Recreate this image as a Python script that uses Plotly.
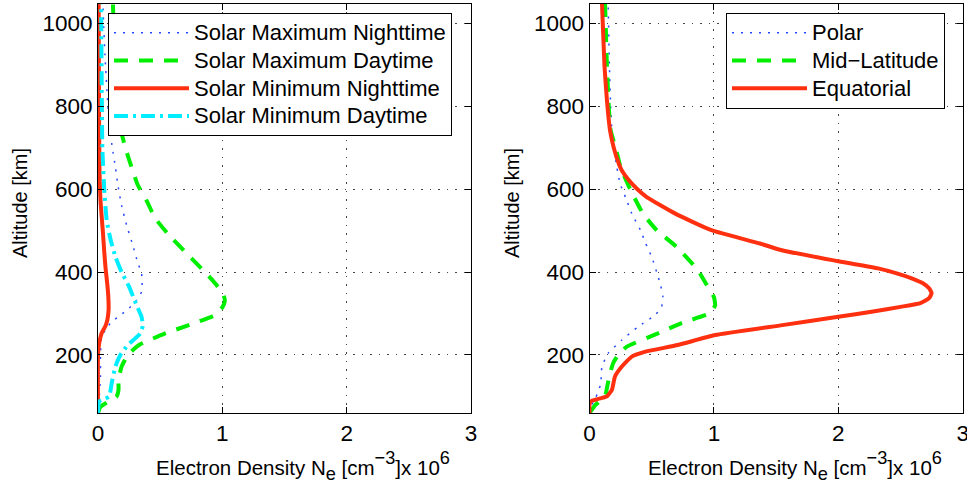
import plotly.graph_objects as go

# ---------------- data ----------------
# Left panel: solar cycle / local time  (altitude in km, Ne in 1e6 cm^-3)
smax_night_alt = [60, 100, 150, 200, 245, 265, 280, 296, 310, 328, 352, 375, 398, 422, 465, 513, 560, 610, 653, 700, 735, 800, 900, 1000, 1050]
smax_night_ne = [0.0, 0.01, 0.02, 0.02, 0.03, 0.07, 0.11, 0.18, 0.24, 0.30, 0.35, 0.355, 0.35, 0.32, 0.28, 0.23, 0.19, 0.16, 0.14, 0.115, 0.10, 0.08, 0.06, 0.045, 0.04]

smax_day_alt = [60, 75, 90, 100, 116, 140, 172, 200, 224, 252, 272, 296, 315, 330, 345, 370, 397, 446, 493, 530, 573, 610, 653, 700, 735, 800, 900, 1000, 1050]
smax_day_ne = [0.0, 0.02, 0.1, 0.15, 0.165, 0.165, 0.19, 0.24, 0.33, 0.54, 0.73, 0.94, 1.0, 1.02, 1.01, 0.95, 0.87, 0.71, 0.56, 0.46, 0.39, 0.32, 0.27, 0.22, 0.19, 0.16, 0.14, 0.125, 0.12]

smin_night_alt = [60, 200, 229, 253, 270, 284, 308, 340, 370, 412, 450, 494, 573, 650, 800, 1050]
smin_night_ne = [0.0, 0.0, 0.01, 0.03, 0.06, 0.075, 0.085, 0.083, 0.075, 0.06, 0.05, 0.04, 0.02, 0.012, 0.008, 0.005]

smin_day_alt = [60, 88, 95, 100, 132, 172, 200, 224, 240, 252, 270, 292, 320, 365, 400, 437, 480, 525, 600, 700, 850, 1050]
smin_day_ne = [0.0, 0.01, 0.06, 0.09, 0.11, 0.14, 0.18, 0.24, 0.30, 0.34, 0.36, 0.35, 0.31, 0.25, 0.19, 0.14, 0.10, 0.07, 0.05, 0.035, 0.03, 0.025]

# Right panel: latitude
polar_alt = [60, 80, 97, 130, 172, 204, 236, 268, 297, 317, 340, 370, 400, 437, 470, 501, 541, 580, 614, 653, 700, 742, 800, 900, 1050]
polar_ne = [0.0, 0.02, 0.05, 0.09, 0.10, 0.15, 0.26, 0.39, 0.53, 0.58, 0.59, 0.57, 0.54, 0.50, 0.45, 0.41, 0.34, 0.29, 0.245, 0.22, 0.195, 0.18, 0.17, 0.16, 0.15]

midlat_alt = [60, 80, 100, 120, 150, 180, 200, 220, 252, 277, 301, 320, 340, 365, 405, 461, 501, 541, 598, 653, 700, 742, 800, 900, 1050]
midlat_ne = [0.0, 0.05, 0.125, 0.14, 0.16, 0.19, 0.23, 0.30, 0.55, 0.74, 0.97, 1.01, 1.0, 0.95, 0.87, 0.70, 0.54, 0.43, 0.33, 0.25, 0.21, 0.17, 0.155, 0.14, 0.125]

equat_alt = [60, 80, 88, 93, 97, 100, 116, 148, 172, 196, 208, 224, 248, 272, 292, 305, 316, 325, 337, 349, 361, 373, 385, 397, 409, 425, 454, 469, 501, 541, 581, 600, 622, 645, 662, 700, 742, 815, 900, 1050]
equat_ne = [0.0, 0.0, 0.01, 0.06, 0.11, 0.14, 0.18, 0.205, 0.26, 0.34, 0.45, 0.71, 1.01, 1.55, 2.0, 2.28, 2.5, 2.66, 2.73, 2.75, 2.73, 2.68, 2.59, 2.47, 2.32, 2.02, 1.53, 1.37, 0.98, 0.69, 0.46, 0.385, 0.315, 0.26, 0.235, 0.195, 0.165, 0.14, 0.12, 0.1]

x_ticks = [0, 1, 2, 3]
y_ticks = [200, 400, 600, 800, 1000]

# ---------------- styles ----------------
FONT = "Liberation Sans, Arial, Helvetica, sans-serif"
BLUE = "#2848ff"
GREEN = "#00ee00"
RED = "#ff3010"
CYAN = "#00eeff"

fig = go.Figure()

def add(x, y, name, color, width, dash, xa, ya, leg):
    fig.add_trace(go.Scatter(x=x, y=y, mode="lines",
                             name='<span style="font-size:22px">' + name + '</span>',
                             line=dict(color=color, width=width, dash=dash,
                                       shape="spline", smoothing=0.45),
                             xaxis=xa, yaxis=ya, legend=leg))

add(smax_night_ne, smax_night_alt, "Solar Maximum Nighttime", BLUE, 1.5, "2px,7px", "x", "y", "legend")
add(smax_day_ne, smax_day_alt, "Solar Maximum Daytime", GREEN, 4, "14px,11px", "x", "y", "legend")
add(smin_night_ne, smin_night_alt, "Solar Minimum Nighttime", RED, 4, "solid", "x", "y", "legend")
add(smin_day_ne, smin_day_alt, "Solar Minimum Daytime", CYAN, 4, "14px,5px,3px,5px", "x", "y", "legend")

add(polar_ne, polar_alt, "Polar", BLUE, 1.5, "2px,7px", "x2", "y2", "legend2")
add(midlat_ne, midlat_alt, "Mid\u2212Latitude", GREEN, 4, "14px,11px", "x2", "y2", "legend2")
add(equat_ne, equat_alt, "Equatorial", RED, 4, "solid", "x2", "y2", "legend2")

W, H = 967, 489
def px(x):
    return x / W
def py(y):
    return 1 - y / H

TICKFONT = dict(family=FONT, size=22.5, color="black")
xcommon = dict(range=[0, 3], tickvals=x_ticks, ticks="inside", ticklen=6, tickcolor="black",
               showline=True, linecolor="black", linewidth=1, mirror="ticks",
               showgrid=True, gridcolor="#444", gridwidth=1, griddash="1.5px,7px",
               zeroline=False, automargin=False, ticklabeloverflow="allow", tickfont=TICKFONT)
ycommon = dict(range=[60, 1048], tickvals=y_ticks, ticks="inside", ticklen=6, tickcolor="black",
               showline=True, linecolor="black", linewidth=1, mirror="ticks",
               showgrid=True, gridcolor="#444", gridwidth=1, griddash="1.5px,7px",
               zeroline=False, automargin=False, tickfont=TICKFONT)

legcommon = dict(bgcolor="white", bordercolor="black", borderwidth=1,
                 font=dict(family=FONT, size=19, color="black"),
                 xanchor="left", yanchor="top", itemwidth=75, tracegroupgap=0)

fig.update_layout(
    width=W, height=H, margin=dict(l=0, r=0, t=0, b=0, autoexpand=False),
    paper_bgcolor="white", plot_bgcolor="white",
    font=dict(family=FONT, size=20, color="black"),
    xaxis=dict(domain=[px(98), px(471)], anchor="y", **xcommon),
    yaxis=dict(domain=[py(413), py(3.5)], anchor="x", **ycommon),
    xaxis2=dict(domain=[px(589.5), px(962.7)], anchor="y2", **xcommon),
    yaxis2=dict(domain=[py(413), py(3.5)], anchor="x2", **ycommon),
    legend=dict(x=px(108), y=py(13), **legcommon),
    legend2=dict(x=px(726), y=py(13), **legcommon),
)

xtitle = ('Electron Density N<span style="font-size:26px"><sub>e</sub></span> '
          '[cm<span style="font-size:26px"><sup>\u22123</sup></span>]x 10'
          '<span style="font-size:26px"><sup>6</sup></span>')
for x0 in (154, 646):
    fig.add_annotation(text=xtitle, xref="paper", yref="paper", x=px(x0), y=py(466),
                       xanchor="left", yanchor="middle", showarrow=False,
                       font=dict(family=FONT, size=20.5, color="black"))
for x0 in (20, 512):
    fig.add_annotation(text="Altitude [km]", xref="paper", yref="paper", x=px(x0), y=py(203),
                       xanchor="center", yanchor="middle", textangle=-90, showarrow=False,
                       font=dict(family=FONT, size=20, color="black"))

fig.write_html("out.html")
